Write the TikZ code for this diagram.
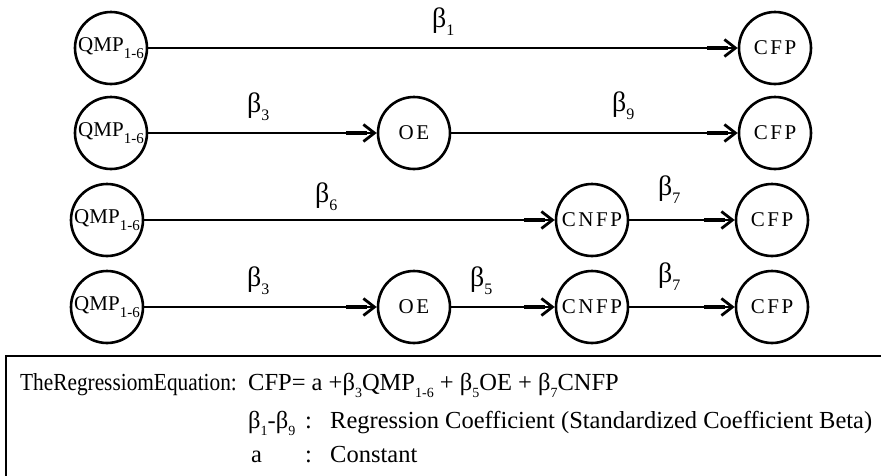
\documentclass[tikz,border=0pt]{standalone}
\usepackage{graphicx}
\usepackage{fontspec}
\setmainfont{Liberation Serif}
\newfontfamily\spacedfont[LetterSpace=12]{Liberation Serif}
\usetikzlibrary{arrows.meta,decorations.markings}

% lowered small index used in variable names and coefficients
\newcommand\lowsub[2][15]{\raisebox{-0.32em}{\fontsize{#1}{#1}\selectfont #2}}

\tikzset{
  var/.style={circle, draw, line width=2.6pt, minimum size=72pt, inner sep=0pt,
              font=\fontsize{21}{24}\selectfont},
  spvar/.style={var, font=\spacedfont\fontsize{21}{24}\selectfont},
  arr/.style={line width=2.8pt, -{Straight Barb[length=11pt,width=17pt]},
              postaction={decorate, decoration={markings,
                mark=at position 1 with {\fill (-31pt,-2.3pt) rectangle (-10pt,2.3pt);}}}},
  coef/.style={anchor=base west, inner sep=0pt, font=\fontsize{28}{31}\selectfont},
  boxtxt/.style={anchor=base west, inner sep=0pt, font=\fontsize{24.5}{28}\selectfont},
}

\begin{document}
\begin{tikzpicture}[x=1pt, y=-1pt]
\useasboundingbox (0,0) rectangle (881,475);

% path 1: QMP -> CFP
\node[var]   (q1)  at (111,48)  {QMP\lowsub{1-6}};
\node[spvar] (cf1) at (775,48)  {CFP};
\draw[arr] (q1) -- (cf1);
\node[coef] (b1) at (432,27) {β\lowsub[16]{1}};

% path 2: QMP -> OE -> CFP
\node[var]   (q2)  at (111,133) {QMP\lowsub{1-6}};
\node[spvar] (oe2) at (414,133) {OE};
\node[spvar] (cf2) at (775,133) {CFP};
\draw[arr] (q2) -- (oe2);
\draw[arr] (oe2) -- (cf2);
\node[coef] (b3a) at (247,112) {β\lowsub[16]{3}};
\node[coef] (b9)  at (612,111) {β\lowsub[16]{9}};

% path 3: QMP -> CNFP -> CFP
\node[var]   (q3)  at (107,220) {QMP\lowsub{1-6}};
\node[spvar] (cn3) at (592,220) {CNFP};
\node[spvar] (cf3) at (772,220) {CFP};
\draw[arr] (q3) -- (cn3);
\draw[arr] (cn3) -- (cf3);
\node[coef] (b6)  at (315,202) {β\lowsub[16]{6}};
\node[coef] (b7a) at (658,195) {β\lowsub[16]{7}};

% path 4: QMP -> OE -> CNFP -> CFP
\node[var]   (q4)  at (107,307) {QMP\lowsub{1-6}};
\node[spvar] (oe4) at (414,307) {OE};
\node[spvar] (cn4) at (592,307) {CNFP};
\node[spvar] (cf4) at (772,307) {CFP};
\draw[arr] (q4) -- (oe4);
\draw[arr] (oe4) -- (cn4);
\draw[arr] (cn4) -- (cf4);
\node[coef] (b3b) at (247,286) {β\lowsub[16]{3}};
\node[coef] (b5)  at (470,286) {β\lowsub[16]{5}};
\node[coef] (b7b) at (658,282) {β\lowsub[16]{7}};

% legend frame, open to the right and bottom
\draw[line width=2.8pt] (6,476) -- (6,356) -- (882,356);

% legend text
\node[boxtxt] (eqlbl) at (20,390) {\scalebox{0.87}[1]{TheRegressiomEquation:}};
\node[boxtxt] (eq)    at (248,390) {CFP= a +β\lowsub[14]{3}QMP\lowsub[14]{1-6} + β\lowsub[14]{5}OE + β\lowsub[14]{7}CNFP};
\node[boxtxt] (brng)  at (248,428) {β\lowsub[14]{1}-β\lowsub[14]{9}};
\node[boxtxt] (col1)  at (305,428) {:};
\node[boxtxt] (rcoef) at (330,428) {Regression Coefficient (Standardized Coefficient Beta)};
\node[boxtxt] (asym)  at (251,462) {a};
\node[boxtxt] (col2)  at (305,462) {:};
\node[boxtxt] (const) at (330,462) {Constant};
\end{tikzpicture}
\end{document}
